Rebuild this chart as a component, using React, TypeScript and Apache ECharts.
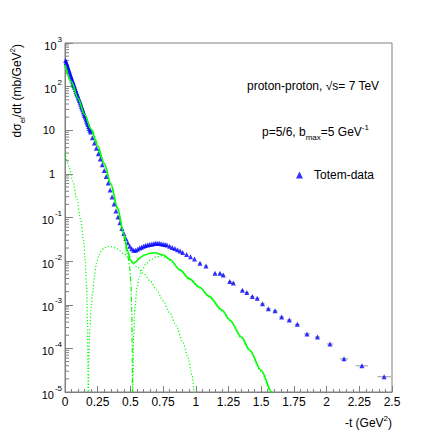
import React, { useEffect, useRef } from 'react';
import * as echarts from 'echarts';

const FONT = '"Liberation Sans", Arial, Helvetica, sans-serif';

// TOTEM data: -t (GeV^2) and dσ/dt (mb/GeV^2)
const dataT = [
  0.005, 0.01, 0.015, 0.02, 0.025, 0.03, 0.035, 0.04, 0.045, 0.05,
  0.055, 0.06, 0.065, 0.07, 0.075, 0.08, 0.085, 0.09, 0.095, 0.1,
  0.105, 0.11, 0.115, 0.12, 0.125, 0.13, 0.135, 0.14, 0.145, 0.15,
  0.155, 0.16, 0.165, 0.17, 0.175, 0.18, 0.185, 0.19, 0.195,
  0.21, 0.225, 0.24, 0.255, 0.27, 0.285, 0.3, 0.315, 0.33, 0.345,
  0.36, 0.375, 0.39, 0.405, 0.42, 0.435, 0.45, 0.465, 0.48, 0.495,
  0.51, 0.525, 0.54, 0.555, 0.57, 0.585, 0.6, 0.615, 0.63, 0.645,
  0.66, 0.675, 0.69, 0.705, 0.72, 0.735, 0.75, 0.765, 0.78,
  0.8, 0.82, 0.84, 0.86, 0.88, 0.9, 0.93, 0.96, 0.99,
  1.032, 1.078, 1.147, 1.185, 1.21, 1.26, 1.287, 1.356, 1.39, 1.432,
  1.47, 1.51, 1.555, 1.606, 1.656, 1.715, 1.776, 1.85, 1.93, 2.026,
  2.133, 2.27, 2.44,
];
const dataSigma = [
  398, 359, 324, 292, 263, 237, 214, 193, 174, 157,
  141, 129, 117, 106, 95.5, 86.1, 77.6, 70.8, 64.6, 58.2,
  52.5, 47.9, 43.7, 39.4, 35.5, 32.4, 29.5, 26.6, 24.0, 21.9,
  20.0, 18.0, 16.2, 14.8, 13.5, 12.2, 11.0, 10.0, 9.12,
  6.76, 5.13, 3.89, 2.88, 2.19, 1.62, 1.2, 0.871, 0.617, 0.427,
  0.295, 0.204, 0.141, 0.102, 0.0759, 0.0562, 0.0427, 0.0331, 0.0263, 0.0219,
  0.0191, 0.0178, 0.0178, 0.0186, 0.02, 0.0209, 0.0219, 0.0229, 0.0234, 0.024,
  0.0245, 0.0251, 0.0257, 0.0257, 0.0257, 0.0251, 0.0245, 0.024, 0.0234,
  0.0219, 0.0204, 0.0195, 0.0182, 0.017, 0.0158, 0.0141, 0.0126, 0.0112,
  0.00891, 0.00776, 0.00525, 0.00525, 0.00479, 0.00339, 0.00316, 0.00214, 0.00191, 0.00155,
  0.00141, 0.00105, 0.000813, 0.000724, 0.000525, 0.000447, 0.000355, 0.000214, 0.000182, 0.000126,
  0.0000575, 0.0000398, 0.0000224,
];
// half-widths of the horizontal error bars of the last data points
const tailErr = [
  0.012, 0.012, 0.012, 0.012, 0.012, 0.013, 0.013, 0.014, 0.014, 0.015,
  0.015, 0.016, 0.017, 0.018, 0.019, 0.02, 0.02, 0.023, 0.02, 0.025,
  0.032, 0.047, 0.051,
];

// model: total (solid)
const totalT = [0, 0.05, 0.1, 0.15, 0.2, 0.25, 0.3, 0.35, 0.4, 0.45, 0.48, 0.5, 0.52, 0.54, 0.57, 0.6, 0.65, 0.69, 0.75, 0.8, 0.88, 0.95, 1.03, 1.1, 1.2, 1.26, 1.35, 1.41, 1.5, 1.58, 1.62];
const totalSigma = [316, 129, 53.7, 22.9, 10.5, 4.37, 1.74, 0.603, 0.174, 0.0417, 0.0166, 0.0107, 0.00891, 0.00955, 0.0117, 0.0135, 0.0151, 0.0155, 0.0138, 0.011, 0.00631, 0.00398, 0.00251, 0.00158, 0.000759, 0.000447, 0.000182, 0.0000933, 0.0000316, 0.00001, 0.00000562];

// component A (dash-dot)
const compAT = [0, 0.1, 0.2, 0.3, 0.35, 0.4, 0.45, 0.48, 0.495, 0.505, 0.51, 0.514, 0.516];
const compASigma = [316, 53.7, 10.5, 1.7, 0.58, 0.16, 0.035, 0.0135, 0.00708, 0.00282, 0.000794, 0.0001, 0.00000316];

// component B (dotted, diffraction bump)
const compBT = [0.518, 0.521, 0.525, 0.535, 0.55, 0.57, 0.59, 0.62, 0.66, 0.7, 0.74, 0.78, 0.82, 0.88, 0.95, 1.03, 1.1, 1.2, 1.26, 1.35, 1.41, 1.5, 1.57, 1.61];
const compBSigma = [0.00000316, 0.0000316, 0.0002, 0.000891, 0.0024, 0.00447, 0.00631, 0.00871, 0.011, 0.0126, 0.0132, 0.0117, 0.00933, 0.00603, 0.0038, 0.0024, 0.00151, 0.000724, 0.000427, 0.00017, 0.0000871, 0.0000295, 0.0000105, 0.00000562];

// component C (dotted, two lobes)
const compCT = [0, 0.03, 0.06, 0.09, 0.12, 0.14, 0.155, 0.165, 0.172, 0.176, 0.178, 0.182, 0.19, 0.2, 0.21, 0.225, 0.24, 0.26, 0.28, 0.3, 0.33, 0.36, 0.4, 0.45, 0.5, 0.55, 0.6, 0.65, 0.7, 0.75, 0.8, 0.85, 0.9, 0.94, 0.97, 0.99, 1.0];
const compCSigma = [3.02, 1.48, 0.676, 0.263, 0.0891, 0.0316, 0.01, 0.00251, 0.000398, 0.0000316, 0.000001, 0.0000631, 0.000316, 0.000891, 0.00178, 0.00447, 0.00891, 0.0141, 0.0178, 0.0204, 0.0219, 0.0214, 0.0191, 0.0148, 0.0105, 0.00741, 0.00525, 0.00355, 0.00219, 0.00123, 0.000661, 0.000331, 0.000141, 0.0000631, 0.0000251, 0.00001, 0.00000398];

const X_MIN = 0;
const X_MAX = 2.5;
const X_INTERVAL = 0.25;
const Y_MIN_EXP = -5;
const Y_MAX_EXP = 3;

const zip = (a: number[], b: number[]) => a.map((v, i) => [v, b[i]]);

const GREEN = '#00ff00';
const AXIS = '#808080';

export default function App() {
  const ref = useRef<HTMLDivElement>(null);

  useEffect(() => {
    if (!ref.current) return;
    const chart = echarts.init(ref.current, undefined, { renderer: 'svg' });

    const yMinor: number[][] = [];
    for (let e = Y_MIN_EXP; e < Y_MAX_EXP; e++) {
      for (let k = 2; k <= 9; k++) yMinor.push([0, k * Math.pow(10, e)]);
    }
    const offset = dataT.length - tailErr.length;
    const errData = tailErr.map((e, i) => [dataT[offset + i], dataSigma[offset + i], e]);

    const richTitle = {
      n: { fontSize: 12, lineHeight: 18, fontFamily: FONT, fill: '#000', color: '#000' },
      sub: { fontSize: 8, fontFamily: FONT, verticalAlign: 'bottom', color: '#000', fill: '#000' },
      sup: { fontSize: 8, fontFamily: FONT, verticalAlign: 'top', color: '#000', fill: '#000' },
    };

    const option: any = {
      animation: false,
      textStyle: { fontFamily: FONT },
      grid: {
        left: 65, top: 43, right: 44, bottom: 44,
        show: true, borderColor: AXIS, borderWidth: 1, backgroundColor: 'transparent',
        containLabel: false, outerBoundsMode: 'none',
      },
      legend: {
        data: [{ name: 'Totem-data', icon: 'triangle' }],
        left: 296, top: 169, padding: 0,
        itemWidth: 7, itemHeight: 7,
        textStyle: { fontSize: 12, color: '#000', fontFamily: FONT, padding: [0, 0, 0, 6] },
        selectedMode: false,
      },
      xAxis: {
        type: 'value', min: X_MIN, max: X_MAX, interval: X_INTERVAL,
        splitLine: { show: false },
        axisLine: { show: true, onZero: false, lineStyle: { color: AXIS, width: 1 } },
        axisTick: { show: true, inside: true, length: 6, lineStyle: { color: AXIS } },
        minorTick: { show: true, splitNumber: 5, length: 3, lineStyle: { color: AXIS } },
        axisLabel: { color: '#000', fontSize: 12, margin: 4, showMinLabel: true, showMaxLabel: true, fontFamily: FONT },
      },
      yAxis: {
        type: 'log', logBase: 10, min: Math.pow(10, Y_MIN_EXP), max: Math.pow(10, Y_MAX_EXP), splitNumber: 8,
        splitLine: { show: false },
        axisLine: { show: true, onZero: false, lineStyle: { color: AXIS, width: 1 } },
        axisTick: { show: true, inside: true, length: 8, lineStyle: { color: AXIS } },
        minorTick: { show: false },
        axisLabel: {
          margin: 3, color: '#000', fontFamily: FONT,
          formatter: (v: number) => {
            const e = Math.round(Math.log10(v));
            if (e === 0) return '{p|1}';
            if (e === 1) return '{p|10}';
            return '{b|10}{s|' + e + '}';
          },
          rich: {
            p: { fontSize: 11, color: '#000', fontFamily: FONT, padding: [0, 7, 0, 0], lineHeight: 16 },
            b: { fontSize: 11, color: '#000', fontFamily: FONT, lineHeight: 16, verticalAlign: 'bottom' },
            s: { fontSize: 8, color: '#000', fontFamily: FONT, verticalAlign: 'top', padding: [0, 0, 0, 1] },
          },
        },
      },
      series: [
        {
          type: 'custom', name: 'yMinorTicks', silent: true, clip: false, z: 1,
          data: yMinor,
          encode: { x: 0, y: 1 },
          renderItem: (_p: any, api: any) => {
            const pt = api.coord([0, api.value(1)]);
            return {
              type: 'line',
              shape: { x1: pt[0], y1: pt[1], x2: pt[0] + 4, y2: pt[1] },
              style: { stroke: AXIS, lineWidth: 1 },
            };
          },
        },
        {
          type: 'line', name: 'compC', data: zip(compCT, compCSigma), symbol: 'none', showSymbol: false,
          smooth: 0.3, smoothMonotone: 'x', clip: true, silent: true, z: 2,
          lineStyle: { color: GREEN, width: 1.2, type: [1.2, 2] },
        },
        {
          type: 'line', name: 'compA', data: zip(compAT, compASigma), symbol: 'none', showSymbol: false,
          smooth: 0.3, smoothMonotone: 'x', clip: true, silent: true, z: 2,
          lineStyle: { color: GREEN, width: 1.2, type: [5, 2, 1.2, 2] },
        },
        {
          type: 'line', name: 'compB', data: zip(compBT, compBSigma), symbol: 'none', showSymbol: false,
          smooth: 0.3, smoothMonotone: 'x', clip: true, silent: true, z: 2,
          lineStyle: { color: GREEN, width: 1.2, type: [1.2, 2] },
        },
        {
          type: 'custom', name: 'xerr', silent: true, z: 4,
          data: errData,
          encode: { x: 0, y: 1 },
          renderItem: (_p: any, api: any) => {
            const t = api.value(0), v = api.value(1), e = api.value(2);
            const a = api.coord([t - e, v]);
            const b = api.coord([t + e, v]);
            return {
              type: 'line',
              shape: { x1: a[0], y1: a[1], x2: b[0], y2: b[1] },
              style: { stroke: '#999999', lineWidth: 1 },
            };
          },
        },
        {
          type: 'scatter', name: 'Totem-data', data: zip(dataT, dataSigma),
          symbol: 'triangle', symbolSize: 5, z: 5, silent: true,
          itemStyle: { color: '#0000ff' },
        },
        {
          type: 'line', name: 'total', data: zip(totalT, totalSigma), symbol: 'none', showSymbol: false,
          smooth: 0.3, smoothMonotone: 'x', clip: true, silent: true, z: 6,
          lineStyle: { color: GREEN, width: 1.6 },
        },
      ],
      graphic: [
        {
          type: 'text', x: 247, y: 86,
          style: { text: 'proton-proton, \u221As= 7 TeV', fontSize: 12, fontFamily: FONT, fill: '#000', align: 'left', verticalAlign: 'middle' },
        },
        {
          type: 'text', x: 262, y: 132,
          style: { text: '{n|p=5/6, b}{sub|max}{n|=5 GeV}{sup|-1}', rich: richTitle, fill: '#000', align: 'left', verticalAlign: 'middle' },
        },
        {
          type: 'text', x: 392, y: 423,
          style: { text: '{n|-t (GeV}{sup|2}{n|)}', rich: richTitle, fill: '#000', align: 'right', verticalAlign: 'middle' },
        },
        {
          type: 'text', x: 17, y: 44, rotation: Math.PI / 2,
          style: { text: '{n|d\u03C3}{sub|el}{n|/dt (mb/GeV}{sup|2}{n|)}', rich: richTitle, fill: '#000', align: 'right', verticalAlign: 'middle' },
        },
      ],
    };

    chart.setOption(option);
    return () => chart.dispose();
  }, []);

  return (
    <div
      ref={ref}
      style={{ position: 'absolute', left: 0, top: 0, width: 436, height: 436, background: '#fff' }}
    />
  );
}
